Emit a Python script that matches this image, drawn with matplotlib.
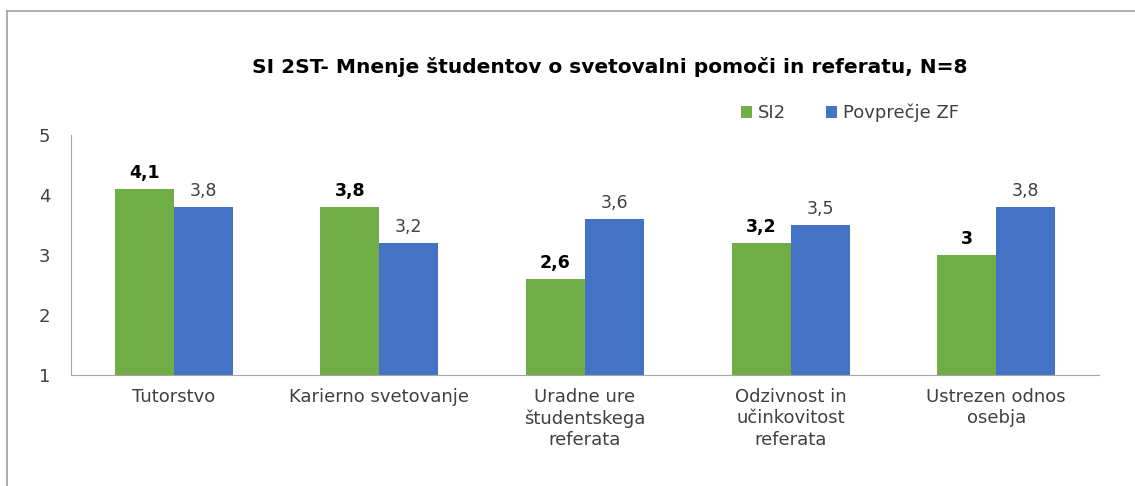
import numpy as np
import matplotlib.pyplot as plt
from matplotlib.lines import Line2D

categories = ['Tutorstvo', 'Karierno svetovanje', 'Uradne ure\nštudentskega\nreferata',
              'Odzivnost in\nučinkovitost\nreferata', 'Ustrezen odnos\nosebja']
si2 = [4.1, 3.8, 2.6, 3.2, 3.0]
si2_labels = ['4,1', '3,8', '2,6', '3,2', '3']
zf = [3.8, 3.2, 3.6, 3.5, 3.8]
zf_labels = ['3,8', '3,2', '3,6', '3,5', '3,8']

green = '#70ad47'
blue = '#4472c4'
plt.rcParams['font.family'] = ['DejaVu Sans']

fig = plt.figure(figsize=(11.35, 4.86), dpi=100)
ax = fig.add_axes([71 / 1135, 1 - 375 / 486, (1099 - 71) / 1135, 240 / 486])

x = np.arange(len(categories))
w = 0.287
base = 1
b1 = ax.bar(x - w / 2, np.array(si2) - base, w, bottom=base, color=green, label='SI2')
b2 = ax.bar(x + w / 2, np.array(zf) - base, w, bottom=base, color=blue, label='Povprečje ZF')

for i in range(len(x)):
    ax.text(x[i] - w / 2, si2[i] + 0.12, si2_labels[i], ha='center', va='bottom',
            fontsize=12.5, fontweight='bold', color='black')
    ax.text(x[i] + w / 2, zf[i] + 0.12, zf_labels[i], ha='center', va='bottom',
            fontsize=12.5, color='#404040')

ax.set_xlim(-0.5, len(categories) - 0.5)
ax.set_ylim(1, 5)
ax.set_yticks([1, 2, 3, 4, 5])
ax.set_xticks(x)
ax.set_xticklabels(categories, fontsize=13, color='#404040', linespacing=1.25)
ax.tick_params(axis='both', length=0, colors='#404040')
ax.tick_params(axis='y', pad=15, labelsize=13)
ax.tick_params(axis='x', pad=9)
for s in ['top', 'right']:
    ax.spines[s].set_visible(False)
for s in ['left', 'bottom']:
    ax.spines[s].set_color('#a6a6a6')

fig.text(610 / 1135, 1 - 67 / 486, 'SI 2ST- Mnenje študentov o svetovalni pomoči in referatu, N=8',
         ha='center', va='center', fontsize=14.5, fontweight='bold', color='black')

fig.legend(handles=[b1, b2], loc='center', bbox_to_anchor=(850 / 1135, 1 - 113 / 486),
           ncol=2, frameon=False, fontsize=13, handlelength=0.6, handleheight=0.6,
           columnspacing=2.2, handletextpad=0.35, labelcolor='#404040')

# chart border (top and left visible)
fig.add_artist(Line2D([7 / 1135, 1], [1 - 11 / 486, 1 - 11 / 486], color='#a0a0a0', lw=1.2))
fig.add_artist(Line2D([7 / 1135, 7 / 1135], [0, 1 - 11 / 486], color='#a0a0a0', lw=1.2))

fig.savefig('out.png', dpi=100)
